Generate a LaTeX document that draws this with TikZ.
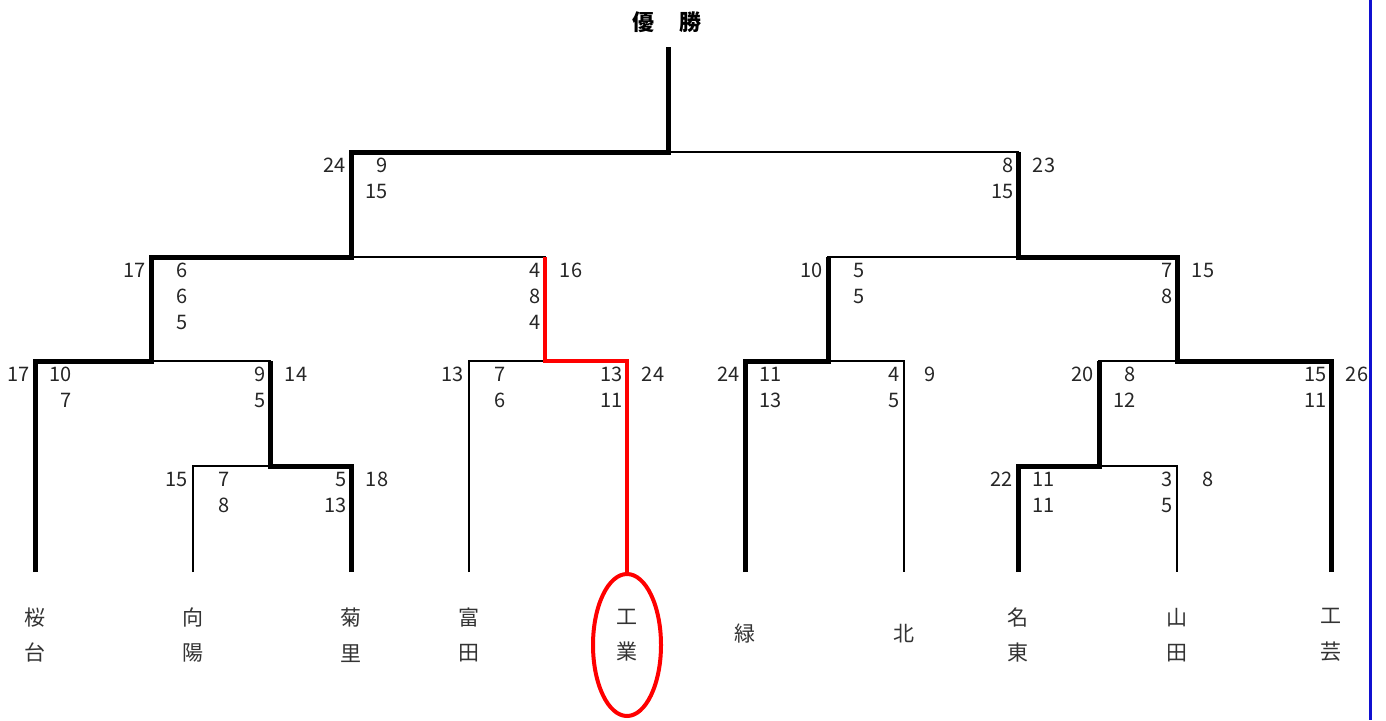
\documentclass[tikz,border=0pt]{standalone}
\usepackage{fontspec}
\setmainfont{Noto Sans CJK JP}
\usepackage{tikz}
\usetikzlibrary{calc}

\begin{document}
\begin{tikzpicture}
			[x=1pt,y=-1pt,line cap=butt,
			%Styles
			bracket line/.style={line width=2pt},
			winner line/.style={line width=5pt},
			marked line/.style={line width=4.5pt,markred},
			score/.style={inner sep=0pt,text=black!85,align=right,font=\fontsize{20}{26}\selectfont},
			outer left/.style={score,anchor=base east,xshift=-5pt,yshift=-20pt},
			inner left/.style={score,anchor=base east,xshift=37pt,yshift={-20pt-26pt*(#1-1)}},
			inner left/.default=2,
			inner right/.style={score,anchor=base east,xshift=-4pt,yshift={-20pt-26pt*(#1-1)}},
			inner right/.default=2,
			outer right/.style={score,anchor=base,xshift=26pt,yshift=-20pt},
			school/.style={inner sep=0pt,text=black!80,align=center,font=\fontsize{21}{35.5}\selectfont},
			title/.style={inner sep=0pt,font=\fontsize{22}{26}\selectfont\bfseries}
			]
			
			%Colors
			\colorlet{markred}{red}	%path of the marked school
			\definecolor{edgeblue}{RGB}{16,16,208}	%frame line on the right
			
			\useasboundingbox (0,0) rectangle (1386,720);
			
			%Leaf ends and match points
			\coordinate (l1) at (35,572);
			\coordinate (l2) at (193,572);
			\coordinate (l3) at (351,572);
			\coordinate (l4) at (469,572);
			\coordinate (l5) at (627,572);
			\coordinate (l6) at (745,572);
			\coordinate (l7) at (904,572);
			\coordinate (l8) at (1018,572);
			\coordinate (l9) at (1177,572);
			\coordinate (l10) at (1331,572);
			\coordinate (r1a) at (270,466);
			\coordinate (r1b) at (1099,466);
			\coordinate (qf1) at (151,361);
			\coordinate (qf2) at (545,361);
			\coordinate (qf3) at (828,361);
			\coordinate (qf4) at (1177,361);
			\coordinate (sf1) at (351,257);
			\coordinate (sf2) at (1018,257);
			\coordinate (fin) at (668,152);
			\coordinate (champ) at (668,47);
			
			%The bracket
			\draw[bracket line] (l2) |- (r1a) -| (l3);
			\draw[bracket line] (l8) |- (r1b) -| (l9);
			\draw[bracket line] (l1) |- (qf1) -| (r1a);
			\draw[bracket line] (l4) |- (qf2) -| (l5);
			\draw[bracket line] (l6) |- (qf3) -| (l7);
			\draw[bracket line] (r1b) |- (qf4) -| (l10);
			\draw[bracket line] (qf1) |- (sf1) -| (qf2);
			\draw[bracket line] (qf3) |- (sf2) -| (qf4);
			\draw[bracket line] (sf1) |- (fin) -| (sf2);
			
			%Winners
			\draw[winner line] (l1) |- (qf1) |- (sf1) |- (fin) -- (champ);
			\draw[winner line] (l3) |- (r1a) -- (r1a |- qf1);
			\draw[winner line] (l6) |- (qf3) -- (qf3 |- sf2);
			\draw[winner line] (l8) |- (r1b) -- (r1b |- qf4);
			\draw[winner line] (l10) |- (qf4) |- (sf2) -- (sf2 |- fin);
			\draw[marked line] (l5) |- (qf2) -- (qf2 |- sf1);
			\draw[marked line,line width=4pt] ([yshift=-73pt]l5) ellipse [x radius=34, y radius=71];
			
			\node[title] (yusho) at (667,22) {優\hspace{25pt}勝};
			
			%Scores
			\node[outer left] (fin-ol) at (sf1 |- fin) {24};
			\node[inner left] (fin-il) at (sf1 |- fin) {9\\15};
			\node[inner right] (fin-ir) at (sf2 |- fin) {8\\15};
			\node[outer right] (fin-or) at (sf2 |- fin) {23};
			
			\node[outer left] (sf1-ol) at (qf1 |- sf1) {17};
			\node[inner left=3] (sf1-il) at (qf1 |- sf1) {6\\6\\5};
			\node[inner right=3] (sf1-ir) at (qf2 |- sf1) {4\\8\\4};
			\node[outer right] (sf1-or) at (qf2 |- sf1) {16};
			
			\node[outer left] (sf2-ol) at (qf3 |- sf2) {10};
			\node[inner left] (sf2-il) at (qf3 |- sf2) {5\\5};
			\node[inner right] (sf2-ir) at (qf4 |- sf2) {7\\8};
			\node[outer right] (sf2-or) at (qf4 |- sf2) {15};
			
			\node[outer left] (qf1-ol) at (l1 |- qf1) {17};
			\node[inner left] (qf1-il) at (l1 |- qf1) {10\\7};
			\node[inner right] (qf1-ir) at (r1a |- qf1) {9\\5};
			\node[outer right] (qf1-or) at (r1a |- qf1) {14};
			
			\node[outer left] (qf2-ol) at (l4 |- qf2) {13};
			\node[inner left] (qf2-il) at (l4 |- qf2) {7\\6};
			\node[inner right] (qf2-ir) at (l5 |- qf2) {13\\11};
			\node[outer right] (qf2-or) at (l5 |- qf2) {24};
			
			\node[outer left] (qf3-ol) at (l6 |- qf3) {24};
			\node[inner left] (qf3-il) at (l6 |- qf3) {11\\13};
			\node[inner right] (qf3-ir) at (l7 |- qf3) {4\\5};
			\node[outer right] (qf3-or) at (l7 |- qf3) {9};
			
			\node[outer left] (qf4-ol) at (r1b |- qf4) {20};
			\node[inner left] (qf4-il) at (r1b |- qf4) {8\\12};
			\node[inner right] (qf4-ir) at (l10 |- qf4) {15\\11};
			\node[outer right] (qf4-or) at (l10 |- qf4) {26};
			
			\node[outer left] (r1a-ol) at (l2 |- r1a) {15};
			\node[inner left] (r1a-il) at (l2 |- r1a) {7\\8};
			\node[inner right] (r1a-ir) at (l3 |- r1a) {5\\13};
			\node[outer right] (r1a-or) at (l3 |- r1a) {18};
			
			\node[outer left] (r1b-ol) at (l8 |- r1b) {22};
			\node[inner left] (r1b-il) at (l8 |- r1b) {11\\11};
			\node[inner right] (r1b-ir) at (l9 |- r1b) {3\\5};
			\node[outer right,xshift=5pt] (r1b-or) at (l9 |- r1b) {8};
			
			%Schools
			\node[school] (sakuradai) at (35,635) {桜\\台};
			\node[school] (koyo) at (193,635) {向\\陽};
			\node[school] (kikuzato) at (351,635) {菊\\里};
			\node[school] (tomida) at (469,635) {富\\田};
			\node[school] (kogyo) at (627,635) {工\\業};
			\node[school] (midori) at (745,634) {緑};
			\node[school] (kita) at (904,634) {北};
			\node[school] (meito) at (1018,635) {名\\東};
			\node[school] (yamada) at (1177,635) {山\\田};
			\node[school] (kogei) at (1331,635) {工\\芸};
			
			\draw[edgeblue,line width=3pt] (1370.5,0) -- (1370.5,720);
		\end{tikzpicture}
\end{document}
